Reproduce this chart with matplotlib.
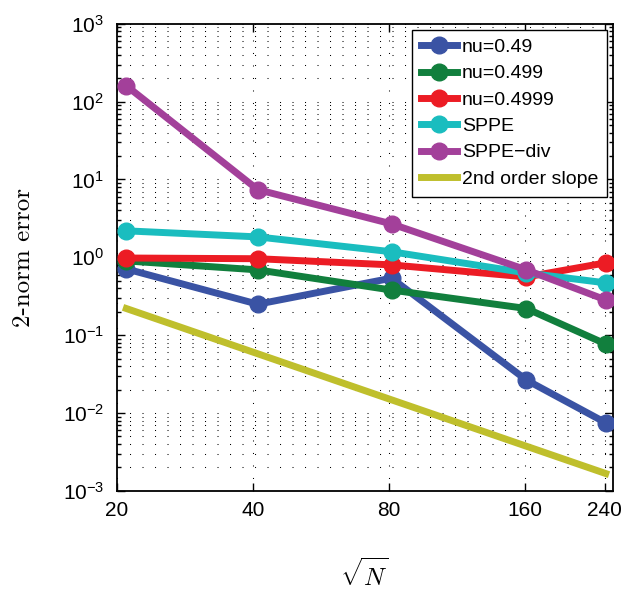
"""
Convergence plot: 2-norm error against sqrt(N) on log-log axes
for several Poisson ratios and the SPPE formulations.
"""

import matplotlib.pyplot as plt
from matplotlib.ticker import FixedLocator, NullLocator, LogLocator

plt.rcParams['font.family'] = ['Liberation Sans', 'DejaVu Sans']

# grid sizes (sqrt of number of nodes)
sqrt_n = [21, 41, 81, 161, 241]

err_nu049 = [0.71, 0.25, 0.54, 0.0265, 0.0075]
err_nu0499 = [0.90, 0.69, 0.38, 0.22, 0.077]
err_nu04999 = [0.98, 0.96, 0.80, 0.56, 0.85]
err_sppe = [2.19, 1.83, 1.18, 0.63, 0.47]
err_sppe_div = [160.0, 7.4, 2.69, 0.69, 0.284]

# reference line for second order convergence
slope_x = [21, 241]
slope_y = [0.22, 0.00167]

x_ticks = [20, 40, 80, 160, 240]

series = [
    ("nu=0.49", err_nu049, '#3a53a4'),
    ("nu=0.499", err_nu0499, '#117f3d'),
    ("nu=0.4999", err_nu04999, '#ec1c24'),
    ("SPPE", err_sppe, '#1abdbf'),
    ("SPPE\u2212div", err_sppe_div, '#a3409a'),
]


def plot_errors():
    fig = plt.figure(figsize=(6.21, 5.95), dpi=100)
    ax = fig.add_axes([0.188, 0.175, 0.799, 0.785])

    for label, values, color in series:
        ax.plot(sqrt_n, values, '-o', color=color, linewidth=5,
                markersize=12, label=label, zorder=3)
    ax.plot(slope_x, slope_y, '-', color='#bfbf2c', linewidth=5,
            label="2nd order slope", zorder=3)

    ax.set_xscale('log')
    ax.set_yscale('log')
    ax.set_xlim(20, 250)
    ax.set_ylim(1e-3, 1e3)

    ax.xaxis.set_major_locator(FixedLocator(x_ticks))
    ax.xaxis.set_minor_locator(NullLocator())
    ax.set_xticklabels([str(t) for t in x_ticks])
    ax.yaxis.set_major_locator(LogLocator(base=10, numticks=10))
    ax.yaxis.set_minor_locator(LogLocator(base=10, subs=range(2, 10), numticks=10))

    dotted = (0, (1, 11))
    ax.grid(True, which='major', axis='both', color='black',
            linestyle=dotted, linewidth=0.75)
    ax.grid(True, which='minor', axis='y', color='black',
            linestyle=dotted, linewidth=0.75)

    ax.tick_params(which='both', direction='in', top=True, right=True,
                   labelsize=15, width=1)
    ax.tick_params(which='major', length=6)
    ax.tick_params(which='minor', length=3)
    ax.tick_params(axis='y', pad=9)
    ax.tick_params(axis='x', pad=7)
    for spine in ax.spines.values():
        spine.set_linewidth(1.3)

    ax.set_ylabel("2-norm error", fontsize=18, family='cmr10', labelpad=20)
    ax.set_xlabel(r"$\sqrt{N}$", fontsize=18, math_fontfamily='cm', labelpad=28)

    leg = ax.legend(loc='upper right', fontsize=14, handlelength=1.85,
                    handletextpad=0.25, labelspacing=0.45, borderpad=0.45,
                    borderaxespad=0.3, fancybox=False, framealpha=1)
    leg.get_frame().set_edgecolor('black')
    leg.get_frame().set_linewidth(1.0)

    fig.savefig("out.png", dpi=100)


if __name__ == "__main__":
    plot_errors()
